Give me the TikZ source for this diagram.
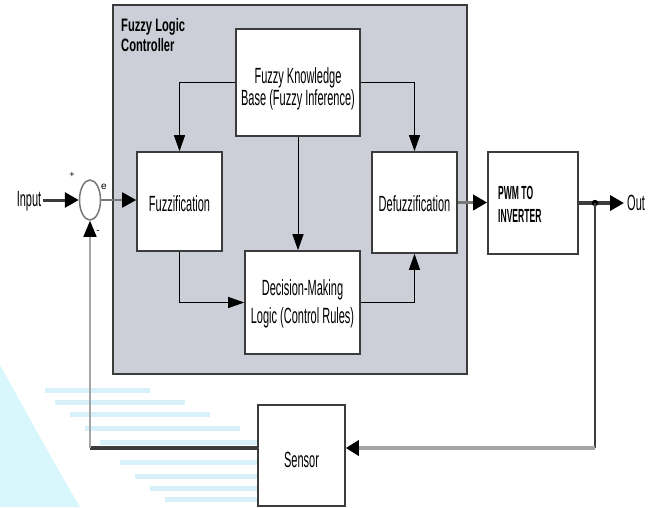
\documentclass[tikz,border=0pt]{standalone}
\usepackage{fontspec}
\setmainfont{Liberation Sans}
\newfontfamily\lblfam[FakeStretch=0.5]{Liberation Sans}
\newfontfamily\ttlfam[FakeStretch=0.62]{Liberation Sans}
\newfontfamily\pwmfam[FakeStretch=0.45]{Liberation Sans}
\usetikzlibrary{arrows.meta,shapes.geometric}
\definecolor{ctrlgrey}{RGB}{205,207,216}
\definecolor{boxedge}{RGB}{60,60,60}
\definecolor{lightline}{RGB}{165,165,165}
\definecolor{midline}{RGB}{120,120,120}
\definecolor{wmcyan}{RGB}{216,247,252}
\definecolor{wmstripe}{RGB}{214,241,250}
\begin{document}
\begin{tikzpicture}[x=1pt,y=-1pt,
  box/.style={draw=boxedge,line width=1.6pt,fill=white,inner sep=0pt},
  lbl/.style={font=\lblfam\fontsize{22}{18}\selectfont,align=center,inner sep=0pt},
  conn/.style={line width=1pt,black},
  bigtip/.style={-{Triangle[length=16pt,width=11pt]}},
  widetip/.style={-{Triangle[length=14pt,width=15pt,color=black]}},
]
\useasboundingbox (0,0) rectangle (650,507);
% faint watermark
\fill[wmcyan] (0,365) .. controls (25,410) and (55,465) .. (80,507) -- (0,507) -- cycle;
\foreach \yy/\xa/\xb in {390/45/150,402/55/185,414/70/210,428/85/240,442/100/260,462/120/300,476/135/320,488/150/330,499/165/340}
  \draw[wmstripe,line width=5pt] (\xa,\yy) -- (\xb,\yy);
% controller background
\node[draw=boxedge,line width=1.6pt,fill=ctrlgrey,minimum width=354pt,minimum height=369pt,inner sep=0pt] (ctrl) at (290,189.5) {};
\node[font=\ttlfam\bfseries\fontsize{18}{20}\selectfont,align=left,anchor=west,inner sep=0pt] (ttl) at (121,35) {Fuzzy Logic\\Controller};
% boxes
\node[box,minimum width=124pt,minimum height=107pt] (kb) at (298,82.5) {};
\node[lbl] (kbt) at (298,89) {Fuzzy Knowledge\\Base (Fuzzy Inference)};
\node[box,minimum width=85pt,minimum height=99pt] (fuzz) at (179.5,201.5) {};
\node[lbl] (fuzzt) at (179.5,204) {Fuzzification};
\node[box,minimum width=85pt,minimum height=101pt] (defuzz) at (414.5,202.5) {};
\node[lbl] (defuzzt) at (414.5,204) {Defuzzification};
\node[box,minimum width=115pt,minimum height=103pt] (dm) at (302.5,302.5) {};
\node[lbl,font=\lblfam\fontsize{22}{28}\selectfont] (dmt) at (302.5,304) {Decision-Making\\Logic (Control Rules)};
\node[box,minimum width=90pt,minimum height=102pt] (pwm) at (533,203) {};
\node[font=\pwmfam\bfseries\fontsize{19}{23}\selectfont,align=left,anchor=west,inner sep=0pt] (pwmt) at (498,204) {PWM TO\\INVERTER};
\node[box,minimum width=87pt,minimum height=101pt] (sensor) at (301.5,455.5) {};
\node[lbl] (sensort) at (301.5,460) {Sensor};
% summing junction
\node[draw=midline,line width=1.5pt,ellipse,minimum width=21pt,minimum height=40pt,inner sep=0pt] (sum) at (90,200) {};
\node[font=\fontsize{9}{9}\selectfont,inner sep=0pt] (plus) at (72,175) {+};
\node[font=\fontsize{10}{10}\selectfont,inner sep=0pt] (elbl) at (104,187) {e};
\node[font=\fontsize{10}{10}\selectfont,inner sep=0pt] (minus) at (98,232) {-};
\node[lbl,inner sep=2pt] (inp) at (29,201) {Input};
\node[lbl,anchor=west] (outl) at (627,203) {Out};
\coordinate (j) at (595,203);
\coordinate (fbr) at (595,448);
\coordinate (fbl) at (90,448);
% inner connectors
\draw[conn,bigtip] (kb.west) -| (fuzz.north);
\draw[conn,bigtip] (kb.east) -| (defuzz.north);
\draw[conn,bigtip] (kb.south) -- (kb.south |- dm.north);
\draw[conn,bigtip] (fuzz.south) |- (dm.west);
\draw[conn,bigtip] (dm.east) -| (defuzz.south);
% main path
\draw[line width=3pt,boxedge,widetip] (inp.east |- sum) -- (sum.west);
\draw[line width=2pt,midline,widetip] (sum.east) -- (sum.east -| fuzz.west);
\draw[line width=3.5pt,midline,widetip] (defuzz.east) -- (defuzz.east -| pwm.west);
\draw[line width=4pt,boxedge,widetip] (pwm.east |- j) -- ([xshift=-3pt]outl.west);
\fill[black] (j) circle (3.2pt);
% feedback
\draw[line width=2pt,boxedge] (j) -- (fbr);
\draw[line width=4pt,lightline,-{Triangle[length=13pt,width=15pt,color=black]}] (fbr) -- (sensor.east |- fbr);
\draw[line width=4pt,boxedge] (sensor.west |- fbl) -- (fbl);
\draw[line width=1.5pt,lightline,-{Triangle[length=16pt,width=13pt,color=black]}] (fbl) -- (sum.south);
\end{tikzpicture}
\end{document}
